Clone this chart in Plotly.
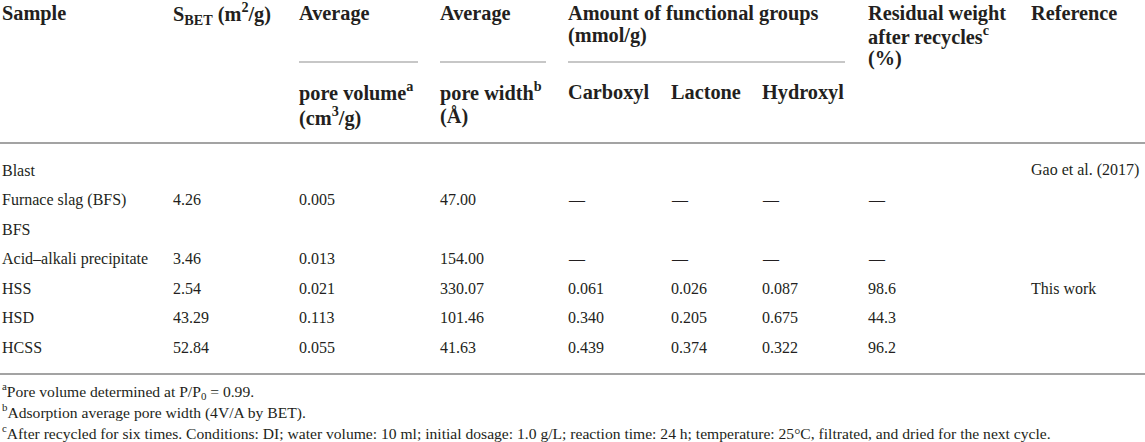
#!/usr/bin/env python
# -*- coding: utf-8 -*-

import plotly.graph_objs as go


W, H = 1145, 442

# table content
samples = ["Blast", "Furnace slag (BFS)", "BFS", "Acid\u2013alkali precipitate", "HSS", "HSD", "HCSS"]
s_bet = ["", "4.26", "", "3.46", "2.54", "43.29", "52.84"]
pore_volume = ["", "0.005", "", "0.013", "0.021", "0.113", "0.055"]
pore_width = ["", "47.00", "", "154.00", "330.07", "101.46", "41.63"]
carboxyl = ["", "\u2014", "", "\u2014", "0.061", "0.340", "0.439"]
lactone = ["", "\u2014", "", "\u2014", "0.026", "0.205", "0.374"]
hydroxyl = ["", "\u2014", "", "\u2014", "0.087", "0.675", "0.322"]
residual = ["", "\u2014", "", "\u2014", "98.6", "44.3", "96.2"]
reference = ["Gao et al. (2017)", "", "", "", "This work", "", ""]

footnotes = [
    "<sup>a</sup>Pore volume determined at P/P<sub>0</sub> = 0.99.",
    "<sup>b</sup>Adsorption average pore width (4V/A by BET).",
    "<sup>c</sup>After recycled for six times. Conditions: DI; water volume: 10 ml; "
    "initial dosage: 1.0 g/L; reaction time: 24 h; temperature: 25\u00b0C, "
    "filtrated, and dried for the next cycle.",
]

FONT = "Liberation Serif"
TXT = "#231f20"
RULE = "#a3a3a3"

# column left edges (px)
COLS = [0, 171, 297, 438, 566, 669, 760, 866, 1029]


def txt(x, y, s, size=16, bold=False):
    return dict(
        x=x, y=y, xref="x", yref="y",
        text="<b>%s</b>" % s if bold else s,
        showarrow=False, xanchor="left", yanchor="middle",
        font=dict(family=FONT, size=size, color=TXT),
    )


def hline(x0, x1, y, w=2, color=RULE):
    return dict(type="line", xref="x", yref="y", x0=x0, x1=x1, y0=y, y1=y,
                line=dict(color=color, width=w))


def main():

    ann = []
    HS = 20.3

    # header
    ann.append(txt(COLS[0], 13, "Sample", HS, True))
    ann.append(txt(COLS[1], 13, "S<sub>BET</sub> (m<sup>2</sup>/g)", HS, True))
    ann.append(txt(COLS[2], 13, "Average", HS, True))
    ann.append(txt(COLS[3], 13, "Average", HS, True))
    ann.append(txt(COLS[4], 13, "Amount of functional groups", HS, True))
    ann.append(txt(COLS[4], 35, "(mmol/g)", HS, True))
    ann.append(txt(COLS[7], 13, "Residual weight", HS, True))
    ann.append(txt(COLS[7], 35, "after recycles<sup>c</sup>", HS, True))
    ann.append(txt(COLS[7], 58, "(%)", HS, True))
    ann.append(txt(COLS[8], 13, "Reference", HS, True))

    ann.append(txt(COLS[2], 91, "pore volume<sup>a</sup>", HS, True))
    ann.append(txt(COLS[2], 116, "(cm<sup>3</sup>/g)", HS, True))
    ann.append(txt(COLS[3], 91, "pore width<sup>b</sup>", HS, True))
    ann.append(txt(COLS[3], 116, "(\u00c5)", HS, True))
    ann.append(txt(COLS[4], 92, "Carboxyl", HS, True))
    ann.append(txt(COLS[5], 92, "Lactone", HS, True))
    ann.append(txt(COLS[6], 92, "Hydroxyl", HS, True))

    # body
    columns = [samples, s_bet, pore_volume, pore_width, carboxyl,
               lactone, hydroxyl, residual, reference]
    y0, dy = 170, 29.5
    for i in range(len(samples)):
        y = y0 + i * dy
        for c, col in enumerate(columns):
            if col[i]:
                ann.append(txt(COLS[c], y, col[i], 16))

    # footnotes
    for i, s in enumerate(footnotes):
        ann.append(txt(0, 391 + i * 20.5, s, 15.6))

    shapes = [
        hline(299, 418, 62, 1.5, "#b5b5b5"),
        hline(440, 546, 62, 1.5, "#b5b5b5"),
        hline(568, 845, 62, 1.5, "#b5b5b5"),
        hline(0, W, 143),
        hline(0, W, 374),
    ]

    fig = go.Figure()
    fig.update_layout(
        width=W, height=H,
        margin=dict(l=0, r=0, t=0, b=0),
        paper_bgcolor="white", plot_bgcolor="white",
        showlegend=False,
        xaxis=dict(range=[0, W], visible=False, fixedrange=True),
        yaxis=dict(range=[H, 0], visible=False, fixedrange=True),
        annotations=ann,
        shapes=shapes,
    )

    # drop the default page margin so the table sits flush in the window
    fig.write_html(
        "out.html",
        config=dict(displayModeBar=False),
        post_script="document.body.style.margin='0';",
    )


if __name__ == '__main__':
    main()
